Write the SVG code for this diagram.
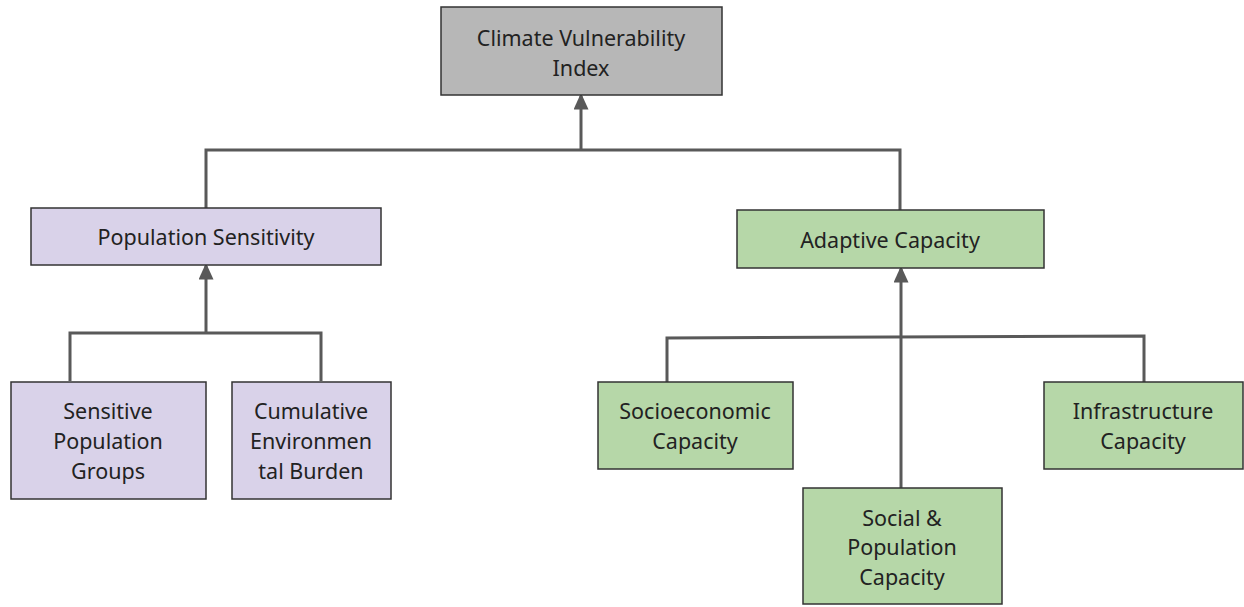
<svg xmlns="http://www.w3.org/2000/svg" width="1244" height="607" viewBox="0 0 1244 607">
<style>
.box{stroke:#333;stroke-width:1.5}
.grey{fill:#b7b7b7}
.purple{fill:#d9d2e9}
.green{fill:#b6d7a8}
text{font-family:"Noto Sans","Open Sans","Liberation Sans",sans-serif;font-size:21.5px;fill:#222;text-anchor:middle;dominant-baseline:central}
.conn path{fill:none;stroke:#595959;stroke-width:3}
</style>
<defs>
<marker id="arr" markerWidth="5.5" markerHeight="5" refX="4.5" refY="2.5" orient="auto" markerUnits="strokeWidth" viewBox="0 0 5.5 5">
<path d="M0,0 L5.5,2.5 L0,5 Z" fill="#595959"/>
</marker>
</defs>
<g id="connectors" class="conn">
<path d="M206,208 V150 H900 V210"/>
<path d="M581,150 V96" marker-end="url(#arr)"/>
<path d="M70,381 V333 H321 V381"/>
<path d="M206,333 V266" marker-end="url(#arr)"/>
<path d="M667,382 V338 L1144,336 V382"/>
<path d="M901,488 V269" marker-end="url(#arr)"/>
</g>
<g id="n-cvi"><rect class="box grey" x="441" y="7" width="281" height="88"/><text x="581" y="37">Climate Vulnerability</text><text x="581" y="67">Index</text></g>
<g id="n-ps"><rect class="box purple" x="31" y="208" width="350" height="57"/><text x="206" y="236">Population Sensitivity</text></g>
<g id="n-ac"><rect class="box green" x="737" y="210" width="307" height="58"/><text x="890" y="239">Adaptive Capacity</text></g>
<g id="n-spg"><rect class="box purple" x="11" y="382" width="195" height="117"/><text x="108" y="410">Sensitive</text><text x="108" y="440">Population</text><text x="108" y="470">Groups</text></g>
<g id="n-ceb"><rect class="box purple" x="232" y="382" width="159" height="117"/><text x="311" y="410">Cumulative</text><text x="311" y="440">Environmen</text><text x="311" y="470">tal Burden</text></g>
<g id="n-sec"><rect class="box green" x="598" y="382" width="195" height="87"/><text x="695" y="410">Socioeconomic</text><text x="695" y="440">Capacity</text></g>
<g id="n-ic"><rect class="box green" x="1044" y="382" width="199" height="87"/><text x="1143" y="410">Infrastructure</text><text x="1143" y="440">Capacity</text></g>
<g id="n-spc"><rect class="box green" x="803" y="488" width="199" height="116"/><text x="902" y="517">Social &amp;</text><text x="902" y="546">Population</text><text x="902" y="576">Capacity</text></g>
</svg>
